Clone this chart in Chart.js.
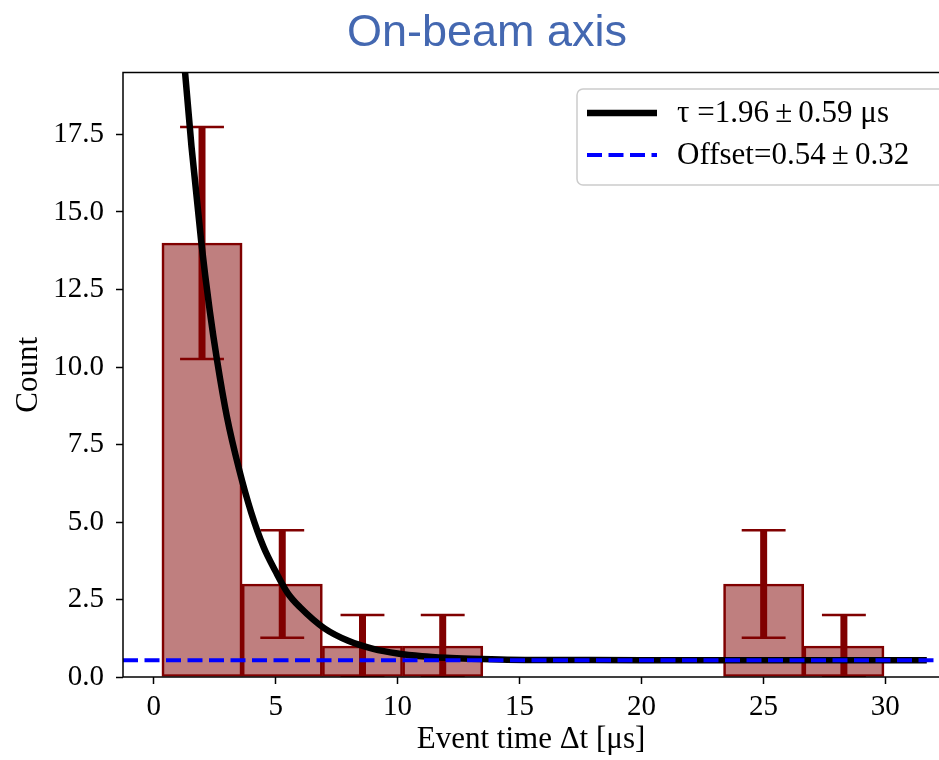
<!DOCTYPE html>
<html>
<head>
<meta charset="utf-8">
<title>On-beam axis</title>
<script src="https://cdn.jsdelivr.net/npm/chart.js@4.4.1/dist/chart.umd.min.js"></script>
<style>
    html, body { margin: 0; padding: 0; background: #fff; }
    #wrap { width: 939px; height: 760px; }
</style>
</head>
<body>
<div id="wrap"><canvas id="decayChart" width="939" height="760"></canvas></div>
<script>
// Histogram of event times (bin centres in µs), counts and their errors
const binCenters = [1.98, 5.27, 8.56, 11.85, 15.14, 18.43, 21.72, 25.01, 28.30];
const binCounts  = [14, 3, 1, 1, 0, 0, 0, 3, 1];
const binErrors  = [3.74, 1.73, 1.0, 1.0, 0, 0, 0, 1.73, 1.0];

// Fitted decay curve
const fitTimes  = [1.0, 1.23, 1.55, 1.94, 2.3, 2.6, 3.0, 3.5, 4.0, 4.5, 5.0, 5.5, 6.0, 7.0, 8.0, 9.0, 10.0, 11.0, 12.0, 13.0, 14.5, 17.0, 20.0, 25.0, 31.7];
const fitCounts = [22.4, 20.0, 17.1, 14.1, 11.8, 10.2, 8.4, 6.7, 5.3, 4.2, 3.4, 2.7, 2.25, 1.57, 1.16, 0.91, 0.76, 0.67, 0.62, 0.59, 0.56, 0.55, 0.54, 0.54, 0.54];

// Constant offset of the fit
const offsetLevel = 0.54;

// Axis ticks
const xTicks = [0, 5, 10, 15, 20, 25, 30];
const yTicks = [0, 2.5, 5, 7.5, 10, 12.5, 15, 17.5];

const titleText   = 'On-beam axis';
const fitLabel    = 'τ =1.96\u2009±\u20090.59 μs';
const offsetLabel = 'Offset=0.54\u2009±\u20090.32';

const X_MIN = -1.26, X_MAX = 32.2;
const Y_MIN = 0, Y_MAX = 19.5;
const CAP_HALF = 0.9;   // half width of the error bar caps (µs)

const serif = '"Liberation Serif", "Times New Roman", serif';
const darkRed = '#800000';

// Build error bar stems and caps from the histogram
const stems = [];
const caps = [];
binCenters.forEach(function(c, i) {
    if (binCounts[i] <= 0) return;
    const lo = binCounts[i] - binErrors[i];
    const hi = binCounts[i] + binErrors[i];
    stems.push({x: c, y: lo}, {x: c, y: hi}, {x: c, y: null});
    caps.push({x: c - CAP_HALF, y: hi}, {x: c + CAP_HALF, y: hi}, {x: c, y: null});
    caps.push({x: c - CAP_HALF, y: lo}, {x: c + CAP_HALF, y: lo}, {x: c, y: null});
});

// Title above the plot
const titlePlugin = {
    id: 'plotTitle',
    afterDraw(chart) {
        const ctx = chart.ctx;
        ctx.save();
        ctx.font = '45px "Liberation Sans", Arial, sans-serif';
        ctx.fillStyle = '#4468b1';
        ctx.textAlign = 'center';
        ctx.textBaseline = 'alphabetic';
        ctx.fillText(titleText, 487, 46);
        ctx.restore();
    }
};

// Axes frame (left, top, bottom; right side runs off the page)
const framePlugin = {
    id: 'frame',
    afterDatasetsDraw(chart) {
        const a = chart.chartArea;
        const ctx = chart.ctx;
        ctx.save();
        ctx.strokeStyle = '#000';
        ctx.lineWidth = 1.5;
        ctx.strokeRect(a.left, a.top, a.right - a.left + 20, a.bottom - a.top);
        ctx.restore();
    }
};

// Legend box in the upper right corner
const legendPlugin = {
    id: 'boxLegend',
    afterDraw(chart) {
        const ctx = chart.ctx;
        const entries = chart.data.datasets
            .filter(d => d.legendRank !== undefined)
            .sort((a, b) => a.legendRank - b.legendRank);
        ctx.save();
        ctx.beginPath();
        ctx.roundRect(577, 89, 400, 96, 6);
        ctx.fillStyle = 'rgba(255,255,255,0.8)';
        ctx.fill();
        ctx.strokeStyle = '#cccccc';
        ctx.lineWidth = 1.5;
        ctx.stroke();
        entries.forEach(function(d, i) {
            const y = 113 + i * 42;
            ctx.beginPath();
            ctx.setLineDash(d.borderDash || []);
            ctx.strokeStyle = d.borderColor;
            ctx.lineWidth = d.borderWidth;
            ctx.moveTo(587, y);
            ctx.lineTo(657, y);
            ctx.stroke();
            ctx.setLineDash([]);
            ctx.fillStyle = '#000';
            ctx.font = '31px ' + serif;
            ctx.textBaseline = 'middle';
            ctx.fillText(d.label, 677, y + 1);
        });
        ctx.restore();
    }
};

const ctx = document.getElementById('decayChart').getContext('2d');
new Chart(ctx, {
    type: 'bar',
    data: {
        datasets: [
            {
                type: 'line',
                label: offsetLabel,
                legendRank: 1,
                data: [{x: X_MIN, y: offsetLevel}, {x: X_MAX + 1, y: offsetLevel}],
                borderColor: '#0000ff',
                borderWidth: 4,
                borderDash: [15, 6.5],
                pointRadius: 0,
                clip: 0,
                order: 0
            },
            {
                type: 'line',
                label: fitLabel,
                legendRank: 0,
                data: fitTimes.map((t, i) => ({x: t, y: fitCounts[i]})),
                borderColor: '#000000',
                borderWidth: 6.5,
                cubicInterpolationMode: 'monotone',
                pointRadius: 0,
                clip: 0,
                order: 1
            },
            {
                type: 'line',
                label: 'caps',
                data: caps,
                borderColor: darkRed,
                borderWidth: 2.5,
                pointRadius: 0,
                spanGaps: false,
                clip: 0,
                order: 2
            },
            {
                type: 'line',
                label: 'stems',
                data: stems,
                borderColor: darkRed,
                borderWidth: 7,
                pointRadius: 0,
                spanGaps: false,
                clip: 0,
                order: 3
            },
            {
                type: 'bar',
                label: 'Counts',
                data: binCenters.map((c, i) => ({x: c, y: binCounts[i]})),
                backgroundColor: 'rgba(128, 0, 0, 0.5)',
                borderColor: darkRed,
                borderWidth: 2,
                borderSkipped: false,
                barPercentage: 1.0,
                categoryPercentage: 1.0,
                clip: 0,
                order: 4
            }
        ]
    },
    options: {
        responsive: false,
        animation: false,
        devicePixelRatio: 1,
        layout: {
            padding: {top: 72.5, left: 0, right: 0, bottom: 0}
        },
        scales: {
            x: {
                type: 'linear',
                min: X_MIN,
                max: X_MAX,
                offset: false,
                afterBuildTicks: function(scale) {
                    scale.ticks = xTicks.map(v => ({value: v}));
                },
                afterFit: function(scale) {
                    scale.height = 83;
                },
                grid: {
                    offset: false,
                    drawOnChartArea: false,
                    drawTicks: true,
                    tickLength: 7,
                    tickWidth: 1.5,
                    tickColor: '#000'
                },
                border: {display: false},
                ticks: {
                    color: '#000',
                    padding: 6,
                    maxRotation: 0,
                    font: {family: serif, size: 29}
                },
                title: {
                    display: true,
                    text: 'Event time Δt [μs]',
                    color: '#000',
                    padding: {top: 0, bottom: 2},
                    font: {family: serif, size: 31}
                }
            },
            y: {
                type: 'linear',
                min: Y_MIN,
                max: Y_MAX,
                afterBuildTicks: function(scale) {
                    scale.ticks = yTicks.map(v => ({value: v}));
                },
                afterFit: function(scale) {
                    scale.width = 123;
                },
                grid: {
                    drawOnChartArea: false,
                    drawTicks: true,
                    tickLength: 7,
                    tickWidth: 1.5,
                    tickColor: '#000'
                },
                border: {display: false},
                ticks: {
                    color: '#000',
                    padding: 12,
                    font: {family: serif, size: 29},
                    callback: function(value) {
                        return Number(value).toFixed(1);
                    }
                },
                title: {
                    display: true,
                    text: 'Count',
                    color: '#000',
                    padding: {top: 10, bottom: 0},
                    font: {family: serif, size: 31}
                }
            }
        },
        plugins: {
            legend: {display: false},
            tooltip: {enabled: false}
        }
    },
    plugins: [titlePlugin, framePlugin, legendPlugin]
});
</script>
</body>
</html>
